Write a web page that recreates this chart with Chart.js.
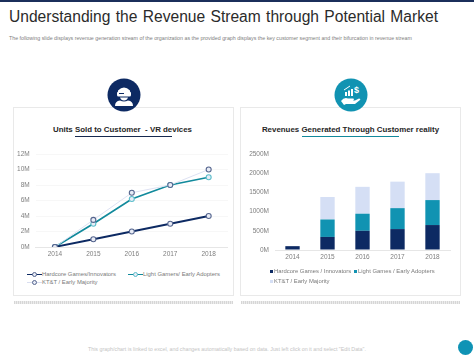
<!DOCTYPE html>
<html>
<head>
<meta charset="utf-8">
<script src="https://cdn.jsdelivr.net/npm/chart.js@4"></script>
<style>
  html, body { margin: 0; padding: 0; background: #fff; }
  body { width: 474px; height: 355px; position: relative; overflow: hidden; font-family: "Liberation Sans", Arial, sans-serif; }
  .abs { position: absolute; }
  .topbar { left: 0; top: 0; width: 474px; height: 2px; background: #1b2f5b; }
  h1 { position: absolute; left: 9px; top: 7px; margin: 0; font-size: 15.6px; line-height: 20px; font-weight: 400; color: #2b2b2b; white-space: nowrap; word-spacing: 1px; }
  .sub { left: 9px; top: 35px; font-size: 5.3px; line-height: 7px; color: #808080; white-space: nowrap; }
  .card { border: 1px solid #e9e9e9; box-sizing: border-box; height: 189px; top: 107px; background: #fff; }
  .band { top: 301px; height: 3px; background: repeating-linear-gradient(90deg, #d6d6d6 0 1px, #ececec 1px 2px); }
  .ctitle { font-size: 7.9px; font-weight: 700; color: #262626; text-align: center; white-space: nowrap; line-height: 10px; top: 125px; }
  .rule { height: 1px; top: 136px; }
  canvas { position: absolute; }
  .legend { font-size: 5.9px; line-height: 8px; color: #7a7a7a; white-space: nowrap; }
  .foot { left: 88px; top: 346px; font-size: 5.3px; line-height: 7px; color: #c4c4c4; white-space: nowrap; }
  svg { position: absolute; }
</style>
</head>
<body>
<div class="abs topbar"></div>
<h1>Understanding the Revenue Stream through Potential Market</h1>
<div class="abs sub">The following slide displays revenue generation stream of the organization as the provided graph displays the key customer segment and their bifurcation in revenue stream</div>

<div class="abs card" style="left:13px;width:221px"></div>
<div class="abs card" style="left:240px;width:221px"></div>
<div class="abs band" style="left:14px;width:219px"></div>
<div class="abs band" style="left:241px;width:219px"></div>

<svg style="left:107px;top:78px" width="34" height="34" viewBox="0 0 34 34">
  <circle cx="17" cy="17" r="16.5" fill="#0d2a63"/>
  <path d="M11 12.5q6-6 12 0v2h-12z" fill="#fff"/>
  <rect x="10" y="13.5" width="14" height="5" rx="1.5" fill="#fff"/>
  <rect x="12" y="15" width="5" height="1" fill="#0d2a63"/>
  <path d="M13 19.5h8q-1 3-4 3t-4-3z" fill="#fff"/>
  <path d="M8 28q0-5 5-5.500q4 2 8 0q5 .5 5 5.500z" fill="#fff"/>
</svg>
<svg style="left:334px;top:78px" width="34" height="34" viewBox="0 0 34 34">
  <circle cx="17" cy="17" r="16.5" fill="#1193b2"/>
  <rect x="11" y="14" width="2" height="4" fill="#fff"/>
  <rect x="14" y="12.500" width="2" height="5.500" fill="#fff"/>
  <rect x="17" y="11" width="2" height="7" fill="#fff"/>
  <path d="M10 12l6-4" stroke="#fff" stroke-width="1" fill="none"/>
  <text x="20" y="15" font-size="9" font-weight="700" fill="#fff" font-family="Liberation Sans">$</text>
  <path d="M7 23q3-4 7-2.500h5q2 .5 0 2h-4h6l4-2q2 0 1 1.500l-5 4h-9l-2 1z" fill="#fff"/>
</svg>

<div class="abs ctitle" style="left:13px;width:219px">Units Sold to Customer&nbsp; - VR devices</div>
<div class="abs rule" style="left:75px;width:97px;background:#16294f"></div>
<div class="abs ctitle" style="left:240px;width:221px">Revenues Generated Through Customer reality</div>
<div class="abs rule" style="left:302px;width:97px;background:#12899b"></div>

<canvas id="unitsChart"></canvas>
<canvas id="revenueChart"></canvas>

<div id="unitsLegend"></div>
<div id="revenueLegend"></div>

<div class="abs foot">This graph/chart is linked to excel, and changes automatically based on data. Just left click on it and select "Edit Data".</div>
<div class="abs" style="left:458px;top:340px;width:15px;height:15px;border-radius:50%;background:#0f93b5"></div>

<script>
const years = ['2014', '2015', '2016', '2017', '2018'];

const unitsHardcore = [0, 1, 2, 3, 4];
const unitsLight = [0, 3, 6.2, 8, 9];
const unitsMajority = [0, 3.5, 7, 8, 10];
const unitsNames = ['Hardcore Games/Innovators', 'Light Gamers/ Early Adopters', 'KT&T / Early Majority'];

const revenueHardcore = [100, 340, 500, 545, 650];
const revenueLight = [0, 455, 445, 545, 650];
const revenueMajority = [0, 585, 700, 690, 700];
const revenueNames = ['Hardcore Games / Innovators', 'Light Games / Early Adopters', 'KT&T / Early Majority'];

const NAVY = '#0d2a63';
const TEAL = '#1193b2';
const PALE = '#d5dff5';
const tickFont = { family: '"Liberation Sans", Arial, sans-serif', size: 6.5 };

Chart.defaults.animation = false;
Chart.defaults.responsive = false;
Chart.defaults.devicePixelRatio = 1;

function place(id, left, top, width, height) {
    const c = document.getElementById(id);
    c.width = width;
    c.height = height;
    c.style.left = left + 'px';
    c.style.top = top + 'px';
    return c.getContext('2d');
}

function xAxis() {
    return {
        offset: true,
        grid: { display: false, drawTicks: false },
        border: { color: '#e6e6e6' },
        ticks: { color: '#7f7f7f', font: tickFont, padding: 3, maxRotation: 0 },
        afterFit: (s) => { s.height = 18; }
    };
}

function yAxis(max, step, gutter, gridColor) {
    return {
        min: 0,
        max: max,
        grid: { color: gridColor, drawTicks: false },
        border: { display: false },
        ticks: { stepSize: step, color: '#7f7f7f', font: tickFont, padding: 6, callback: (v) => v + 'M' },
        afterFit: (s) => { s.width = gutter; }
    };
}

function lineSet(label, data, color, pointColor, width, order) {
    return {
        label: label,
        data: data,
        borderColor: color,
        borderWidth: width,
        pointRadius: 2.5,
        pointBorderWidth: 1.1,
        pointBorderColor: pointColor,
        pointBackgroundColor: '#e8ecf6',
        tension: 0,
        order: order
    };
}

new Chart(place('unitsChart', 13, 140, 220, 125), {
    type: 'line',
    data: {
        labels: years,
        datasets: [
            lineSet(unitsNames[0], unitsHardcore, NAVY, '#56668f', 1.8, 1),
            lineSet(unitsNames[1], unitsLight, '#128a9c', '#5cbecb', 1.7, 3),
            lineSet(unitsNames[2], unitsMajority, '#d9def0', '#56668f', 0.9, 2)
        ]
    },
    options: {
        layout: { padding: { top: 14, right: 3, left: 0, bottom: 0 } },
        plugins: { legend: { display: false }, tooltip: { enabled: false } },
        scales: { x: xAxis(), y: yAxis(12, 2, 22.7, '#f7f7f7') }
    }
});

new Chart(place('revenueChart', 241, 140, 220, 128), {
    type: 'bar',
    data: {
        labels: years,
        datasets: [
            { label: revenueNames[0], data: revenueHardcore, backgroundColor: NAVY },
            { label: revenueNames[1], data: revenueLight, backgroundColor: TEAL },
            { label: revenueNames[2], data: revenueMajority, backgroundColor: PALE }
        ]
    },
    options: {
        datasets: { bar: { categoryPercentage: 1, barPercentage: 0.41 } },
        layout: { padding: { top: 14, right: 11, left: 0, bottom: 0 } },
        plugins: { legend: { display: false }, tooltip: { enabled: false } },
        scales: {
            x: Object.assign(xAxis(), { stacked: true }),
            y: Object.assign(yAxis(2500, 500, 34, 'rgba(0,0,0,0)'), { stacked: true })
        }
    }
});

// legends are plain text so they can sit on two rows like the slide
function lineKey(left, top, name, color, pointColor, width) {
    return `<div class="abs legend" style="left:${left}px;top:${top}px;padding-left:15px">
        <span class="abs" style="left:0;top:3.500px;width:15px;height:${width}px;background:${color}"></span>
        <span class="abs" style="left:5px;top:2px;width:3px;height:3px;border-radius:50%;border:1px solid ${pointColor};background:#e8ecf6"></span>
        ${name}</div>`;
}

function barKey(left, top, name, color) {
    return `<div class="abs legend" style="left:${left}px;top:${top}px;padding-left:4px">
        <span class="abs" style="left:0;top:3px;width:3px;height:3px;background:${color}"></span>
        ${name}</div>`;
}

document.getElementById('unitsLegend').innerHTML =
    lineKey(27, 270, unitsNames[0], NAVY, '#56668f', 1.5) +
    lineKey(128, 270, unitsNames[1], '#128a9c', '#5cbecb', 1.4) +
    lineKey(27, 278, unitsNames[2], '#d9def0', '#56668f', 1);

document.getElementById('revenueLegend').innerHTML =
    barKey(270, 267, revenueNames[0], NAVY) +
    barKey(354, 267, revenueNames[1], TEAL) +
    barKey(270, 277, revenueNames[2], PALE);
</script>
</body>
</html>
